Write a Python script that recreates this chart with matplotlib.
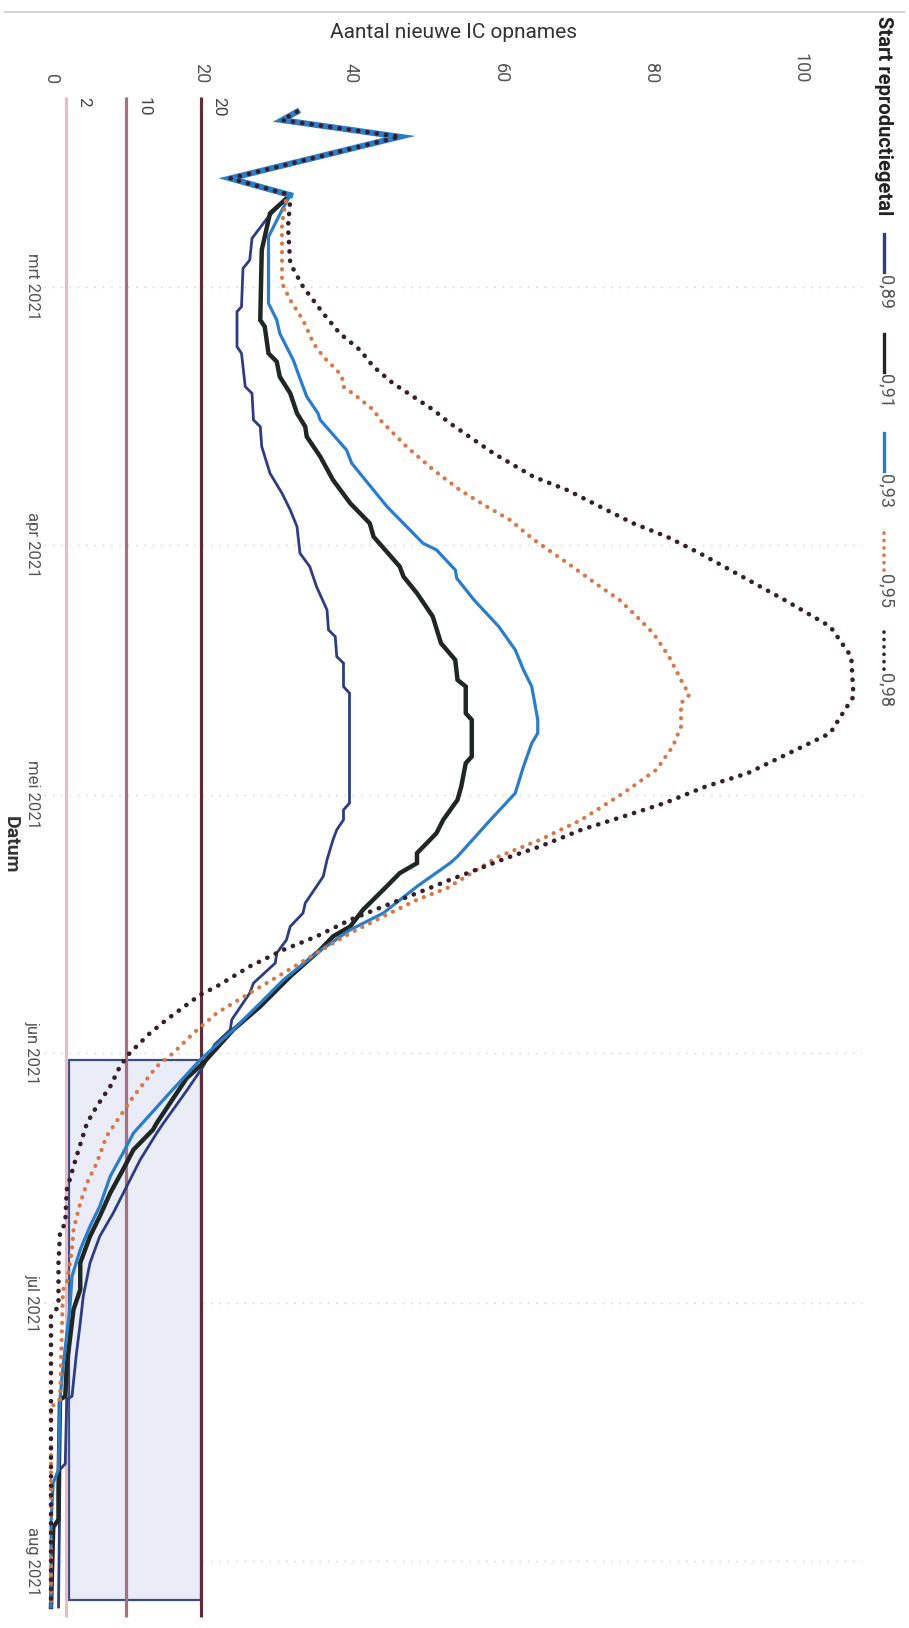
import matplotlib
matplotlib.use('Agg')
import matplotlib.pyplot as plt
import matplotlib.dates as mdates
from matplotlib.patches import Rectangle
from matplotlib.lines import Line2D
import pandas as pd

plt.rcParams['font.family'] = ['Roboto', 'DejaVu Sans']

# ---- data (days counted from 1 March 2021, values = new ICU admissions) ----
start = pd.Timestamp('2021-03-01')

# observed part, shared by all scenarios
hist_days = [-21, -20, -18, -13, -11]
hist_ic = [32.8, 30.8, 46.5, 23.9, 31.9]

days_089 = [-9.8, -8.3, -5.8, -3.2, -2.2, 2.4, 3, 7.2, 8, 12, 12.8, 16, 16.8, 19.2, 22.4, 24.8,
            26.8, 28.8, 32, 33.6, 36, 38.8, 41.2, 42, 44.4, 45.2, 48, 48.8, 62, 62.8, 64, 65.2,
            66.4, 68.8, 70.8, 72, 74, 75.2, 76.8, 78.4, 80, 81.2, 83.6, 84.8, 88, 89.2, 91, 93.6,
            96.5, 100.4, 101.6, 104.8, 108, 111.2, 114, 117.2, 121.2, 124.4, 128, 133.2, 133.6,
            141.3, 142, 158.5]
ic_089 = [30.5, 28.9, 26.8, 26.5, 25.6, 25.4, 24.8, 24.8, 25.4, 25.9, 26.8, 27, 27.9, 28.1, 29.2, 30.8,
          31.9, 32.8, 33.2, 34.5, 35.4, 36.8, 37, 37.9, 38.1, 39, 39, 39.8, 39.8, 39, 39, 38.1,
          37.6, 36.8, 36.3, 35.4, 33.9, 33.6, 31.9, 31.4, 30.1, 29.9, 27, 26.5, 24.1, 23.9, 21.8, 20.3,
          18.1, 15, 14.1, 11.9, 10.1, 8.3, 6.5, 5.2, 4.3, 3.9, 3.4, 2.8, 2.1,
          1.9, 1.2, 1]

days_091 = [-8.8, -4.4, 4, 4.8, 8, 9, 10.8, 12.8, 15.2, 16.8, 18, 20.4, 23.2, 26, 28.4, 30, 33.6,
            34.8, 36.8, 39.6, 42.8, 44.8, 47.2, 48, 51.2, 52, 56.4, 57.2, 60, 61.6, 64, 65.6, 68,
            69.2, 70.4, 72.4, 74.8, 76.8, 78, 79.6, 82.8, 86.4, 89.2, 93.2, 95, 100.4, 101.2, 103.6,
            106, 108.8, 111.6, 114, 117.2, 120.4, 122.8, 126.5, 129.6, 133.2, 133.6, 144.4, 148,
            148.9, 158.5]
ic_091 = [29.2, 28.1, 27.9, 28.5, 29, 30.1, 30.5, 31.9, 32.8, 33.9, 34.1, 35.9, 37.6, 39.9, 42.5, 43, 46.5,
          47, 48.8, 50.9, 52, 53.9, 54.2, 55.3, 55.3, 56.1, 56.1, 55.3, 54.7, 54.2, 52.3, 51.4, 48.8,
          48.8, 46.5, 44.3, 41.6, 39.9, 37.6, 35.9, 31.9, 27.9, 24.3, 20.3, 18.1, 14.1, 13.6, 11,
          9.6, 7.9, 6.5, 5.2, 3.9, 3.9, 3, 2.5, 2.1, 1.9, 1.2, 1, 1,
          0.3, 0]

days_093 = [-9.2, -6, 2, 4, 5.6, 8.8, 12, 13.2, 15.2, 16, 19.6, 21.2, 26.4, 30.8, 31.6, 34, 35,
            37.6, 40.8, 43.6, 46, 48, 52, 53.6, 54.8, 57.6, 60.8, 64, 68.4, 69.2, 72, 75.2, 77.2,
            80, 83.2, 86, 89.2, 92.8, 97.2, 101.6, 104, 106.8, 110.4, 112.8, 115.6, 118.8, 122.8,
            129.6, 133.6, 142, 143.6, 148.5, 158.5]
ic_093 = [30.8, 29, 29, 30.1, 30.5, 32.3, 33.6, 34.1, 35.6, 35.9, 39.4, 40.1, 44.8, 49.6, 51.4, 53.9, 54.1,
          56.4, 59.7, 61.9, 63, 64.1, 64.9, 64.9, 64.1, 63, 61.9, 58.6, 54.2, 53.2, 48.8, 44.3, 39.9,
          35.4, 31, 27.9, 24.3, 19.9, 15.4, 11, 9.6, 7.9, 6.5, 5.2, 3.9, 2.8, 2.5,
          1.6, 1.2, 1, 0.3, 0, 0]

days_095 = [-10.8, -7.6, -0.4, 1.6, 4, 6.8, 8.4, 10, 10.8, 12, 13.2, 14.8, 16, 19.2, 22, 24.4,
            26.4, 28, 30.4, 33.2, 36, 37.6, 39.6, 41.6, 44.4, 47.2, 49, 50, 52.8, 55.2, 58, 60.8,
            64, 66.4, 68.4, 72.2, 73.6, 75.6, 77.6, 80, 82.4, 84.8, 87.2, 89.6, 92, 93.6, 97.2,
            99.6, 102, 105.2, 107.6, 110, 113.2, 115.6, 119.6, 120.4, 133.6, 134.5, 158.5]
ic_095 = [31.4, 30.8, 30.8, 31.9, 33.6, 35, 36.3, 38.1, 38.8, 39, 40.8, 43, 43.9, 47.4, 51, 54.5,
          58.1, 61.2, 64.4, 68.9, 73.2, 75.8, 78.1, 80.3, 82.4, 84, 85.1, 84, 84, 82.9, 80.7, 76.3,
          70.7, 65.2, 59.7, 52.8, 48.8, 44.3, 39.9, 35.4, 31, 26.5, 22.1, 19, 16.3, 14.1, 11,
          9.2, 7.4, 6.1, 4.8, 3.9, 3, 2.8, 2.1, 1.6, 1.2, 0, 0]

days_098 = [-10.4, -7.2, -2.8, 0, 3.2, 5.6, 7.6, 9.6, 11.6, 13.2, 14.8, 16.4, 20, 22.8, 24.4, 26.4,
            28.4, 30, 32, 37.6, 40.8, 44.4, 49.2, 52, 53.6, 56, 58.4, 60, 62, 63.6, 65.2, 67.2,
            68.4, 71.2, 72.8, 74.4, 76, 78, 79.6, 81.6, 84, 85, 88, 89.6, 92, 93.6, 96, 98.4,
            100.4, 104.4, 107.2, 108.4, 112.4, 113.6, 117.2, 122.4, 123.6, 158.5]
ic_098 = [31.9, 31.6, 31.9, 33.6, 36.3, 38.5, 41.2, 43, 45.6, 48.3, 51, 53.2, 59, 64.3, 68.8, 73.2,
          77.6, 82.1, 86.5, 97.8, 103.9, 106.7, 107, 105, 103.9, 98.4, 92.9, 87.3, 81.8, 76.3, 70.7, 65.2,
          61.3, 53.2, 48.8, 44.3, 39.9, 35.4, 31, 26.5, 22.1, 19.9, 15.4, 13.2, 10.5, 9.2, 7.9, 6.1,
          4.8, 3.4, 2.5, 2.1, 1.9, 1.2, 1, 1, 0, 0]

series_labels = ['0,89', '0,91', '0,93', '0,95', '0,98']
series_days = [days_089, days_091, days_093, days_095, days_098]
series_ic = [ic_089, ic_091, ic_093, ic_095, ic_098]

threshold_values = [20, 10, 2]
month_ticks = ['2021-03-01', '2021-04-01', '2021-05-01', '2021-06-01', '2021-07-01', '2021-08-01']
month_labels = ['mrt 2021', 'apr 2021', 'mei 2021', 'jun 2021', 'jul 2021', 'aug 2021']
value_ticks = [0, 20, 40, 60, 80, 100]

# ---- styles ----
colors = ['#2c3d80', '#1f2725', '#2a7dc6', '#d5784a', '#3a1e2b']
widths = [2.0, 3.2, 2.3, 3.0, 3.3]
dotted = [False, False, False, True, True]
zorders = [4, 5, 6, 7, 8]
threshold_colors = ['#5c2c38', '#a3727e', '#e6bcc5']
dots = (0, (0.05, 2.0))


def to_date(d):
    return mdates.date2num(start + pd.to_timedelta(d, unit='D'))


W, H = 909, 1628
fig = plt.figure(figsize=(W / 100, H / 100), dpi=100)
ax_l, ax_r, ax_t = 44, 862, 92
ax = fig.add_axes([ax_l / W, 0, (ax_r - ax_l) / W, (H - ax_t) / H])

# pixel -> data mapping (0 at x=51, 7.5 px per admission; 8.33 px per day)
ax.set_xlim((ax_l - 51) / 7.5, (ax_r - 51) / 7.5)
ax.set_ylim(to_date((H - 286.7) / 8.33), to_date((ax_t - 286.7) / 8.33))

# highlighted box
box_x0, box_x1 = 2.45, 20
box_d0, box_d1 = 92.8, 157.7
ax.add_patch(Rectangle((box_x0, to_date(box_d0)), box_x1 - box_x0, to_date(box_d1) - to_date(box_d0),
                       facecolor='#eaedf7', edgecolor='#3d4b84', lw=1.6, zorder=1))

# threshold lines
for v, c in zip(threshold_values, threshold_colors):
    ax.vlines(v, to_date(-22.8), to_date(159.7), color=c, lw=2.3, zorder=2)
    ax.text(v + 2.4, to_date(-22.8), str(v), rotation=-90, ha='center', va='top',
            fontsize=12.5, color='#444444')

# observed part: all scenarios overlap here
ax.plot(hist_ic, to_date(hist_days), color=colors[2], lw=4.3, solid_joinstyle='miter', zorder=9)
ax.plot(hist_ic, to_date(hist_days), color=colors[4], lw=3.3, linestyle=dots,
        dash_capstyle='round', zorder=10)

# scenario curves
for lab, dd, ic, c, lw, dot, z in zip(series_labels, series_days, series_ic, colors, widths, dotted, zorders):
    y = to_date([hist_days[-1]] + dd)
    vals = [hist_ic[-1]] + ic
    if dot:
        ax.plot(vals, y, color=c, lw=lw, linestyle=dots, dash_capstyle='round', zorder=z)
    else:
        ax.plot(vals, y, color=c, lw=lw, solid_joinstyle='miter', zorder=z)

# axes decoration
for s in ax.spines.values():
    s.set_visible(False)
ax.xaxis.tick_top()
ax.set_xticks(value_ticks)
ax.set_xticklabels([str(v) for v in value_ticks])
ax.tick_params(axis='x', length=0, pad=6, labelrotation=-90, labelsize=13, colors='#555555')
ax.set_yticks([to_date((pd.Timestamp(m) - start).days) for m in month_ticks])
ax.set_yticklabels(month_labels)
ax.tick_params(axis='y', length=0, pad=3, labelrotation=-90, labelsize=12, colors='#555555')
for t in ax.get_yticklabels():
    t.set_va('center')
ax.grid(axis='y', color='#cfcfcf', linestyle=(0, (1, 5)), lw=1)
ax.grid(axis='x', visible=False)
ax.set_axisbelow(True)

ax.xaxis.set_label_position('top')
ax.set_xlabel('Aantal nieuwe IC opnames', fontsize=15, color='#333333')
ax.xaxis.set_label_coords(0.5, 1 + (ax_t - 33) / (H - ax_t))
ax.xaxis.label.set_va('center')
ax.set_ylabel('Datum', fontsize=14, color='#333333', rotation=-90, fontweight='bold')
ax.yaxis.set_label_coords((11 - ax_l) / (ax_r - ax_l), 0.51)
ax.yaxis.label.set_va('center')

# top rule
fig.add_artist(Line2D([0.005, 0.995], [1 - 12 / H, 1 - 12 / H], color='#d4d4d4', lw=1.5))

# rotated legend on the right
lx = 884 / W
fig.text(lx, 1 - 16 / H, 'Start reproductiegetal', rotation=-90, ha='center', va='top',
         fontsize=14.5, fontweight='bold', color='#222222')
for i, (lab, c, dot) in enumerate(zip(series_labels, colors, dotted)):
    y0 = 234 + 99.5 * i
    y1 = y0 + 38
    if dot:
        fig.add_artist(Line2D([lx, lx], [1 - y0 / H, 1 - y1 / H], color=c, lw=2.6,
                              linestyle=dots, dash_capstyle='round'))
    else:
        fig.add_artist(Line2D([lx, lx], [1 - y0 / H, 1 - y1 / H], color=c, lw=2.4))
    fig.text(lx + 2 / W, 1 - (y1 + 3) / H, lab, rotation=-90, ha='center', va='top',
             fontsize=13, color='#555555')

fig.savefig('out.png', dpi=100)
